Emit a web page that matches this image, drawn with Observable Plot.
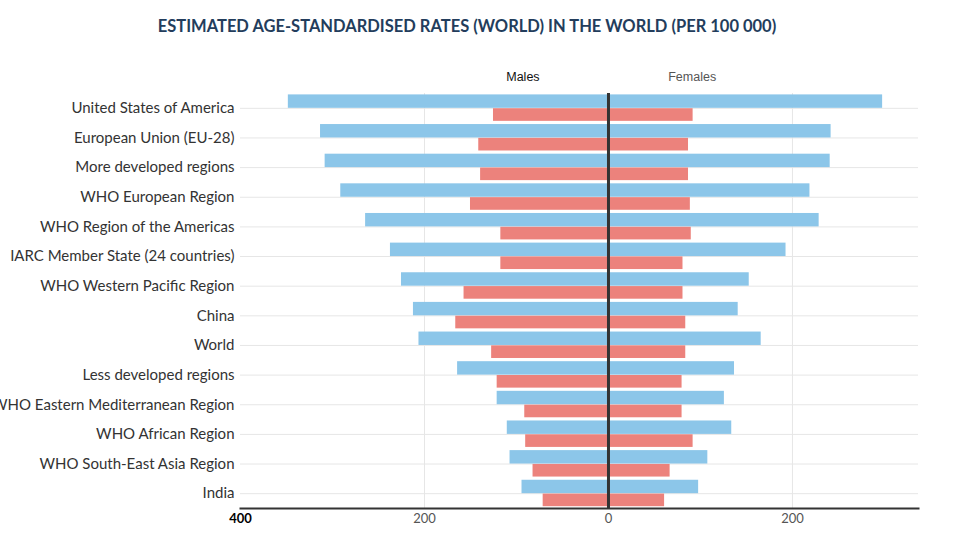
<!DOCTYPE html>
<html><head><meta charset="utf-8">
<script src="https://cdn.jsdelivr.net/npm/d3@7"></script>
<script src="https://cdn.jsdelivr.net/npm/@observablehq/plot@0.6"></script>
<style>
html,body{margin:0;background:#fff;overflow:hidden;}
#title{height:50px;box-sizing:border-box;padding-top:16px;width:978px;padding-right:44px;text-align:center;font:bold 16.5px/20px Lato, sans-serif;color:#233d5c;white-space:nowrap;}
#chart svg{display:block;}
</style></head><body>
<div id="title">ESTIMATED AGE-STANDARDISED RATES (WORLD) IN THE WORLD (PER 100 000)</div>
<div id="chart"></div>
<script>
const categories = [
  "United States of America",
  "European Union (EU-28)",
  "More developed regions",
  "WHO European Region",
  "WHO Region of the Americas",
  "IARC Member State (24 countries)",
  "WHO Western Pacific Region",
  "China",
  "World",
  "Less developed regions",
  "WHO Eastern Mediterranean Region",
  "WHO African Region",
  "WHO South-East Asia Region",
  "India"
];
const maleIncidence   = [348, 313, 308, 291, 264, 237, 225, 212, 206, 164, 121, 110, 107, 94];
const maleMortality   = [125, 141, 139, 150, 117, 117, 157, 166, 127, 121, 91, 90, 82, 71];
const femaleIncidence = [298, 242, 241, 219, 229, 193, 153, 141, 166, 137, 126, 134, 108, 98];
const femaleMortality = [92, 87, 87, 89, 90, 81, 81, 84, 84, 80, 80, 92, 67, 61];
const sexLabels = ["Males", "Females"];
const sexLabelX = [-93, 91];
const xTicks = [-400, -200, 0, 200];

const incidence = categories.flatMap((c, i) => [
  {category: c, sex: "Males", value: -maleIncidence[i]},
  {category: c, sex: "Females", value: femaleIncidence[i]}
]);
const mortality = categories.flatMap((c, i) => [
  {category: c, sex: "Males", value: -maleMortality[i]},
  {category: c, sex: "Females", value: femaleMortality[i]}
]);

const marginTop = 43, marginBottom = 44, height = 502;
const bw = (height - marginTop - marginBottom) / categories.length;

const chart = Plot.plot({
  width: 978,
  height,
  marginTop,
  marginBottom,
  marginLeft: 240,
  marginRight: 60,
  style: {fontFamily: "Lato, sans-serif", background: "#fff", overflow: "visible"},
  x: {domain: [-400, 337], label: null},
  y: {domain: categories, padding: 0, round: false, label: null},
  marks: [
    Plot.gridY({stroke: "#e6e6e6", strokeOpacity: 1}),
    Plot.gridX({ticks: [-200, 200], stroke: "#e6e6e6", strokeOpacity: 1}),
    Plot.barX(incidence, {x1: 0, x2: "value", y: "category", fill: "#8cc6e9", insetTop: 1.4, insetBottom: bw / 2}),
    Plot.barX(mortality, {x1: 0, x2: "value", y: "category", fill: "#ec827c", insetTop: bw / 2 + 0.4, insetBottom: 1.8}),
    Plot.ruleX([0], {stroke: "#333", strokeWidth: 3}),
    Plot.frame({anchor: "bottom", stroke: "#333", strokeWidth: 2, strokeOpacity: 1}),
    Plot.axisY({tickSize: 0, tickPadding: 6, fontSize: 15, fill: "#333"}),
    Plot.axisX({ticks: xTicks.slice(0, 1), tickFormat: d => Math.abs(d), tickSize: 0, tickPadding: 5, fontSize: 13, fontWeight: "bold", fill: "#000"}),
    Plot.axisX({ticks: xTicks.slice(1), tickFormat: d => Math.abs(d), tickSize: 0, tickPadding: 5, fontSize: 13, fill: "#555"}),
    Plot.text(sexLabels, {x: (d, i) => sexLabelX[i], text: d => d, frameAnchor: "top", lineAnchor: "bottom", dy: -13, fontSize: 12.5, fontFamily: "Liberation Sans, Arial, sans-serif", fill: (d, i) => i === 0 ? "#111" : "#555"})
  ]
});
document.getElementById("chart").append(chart);
</script>
</body></html>
